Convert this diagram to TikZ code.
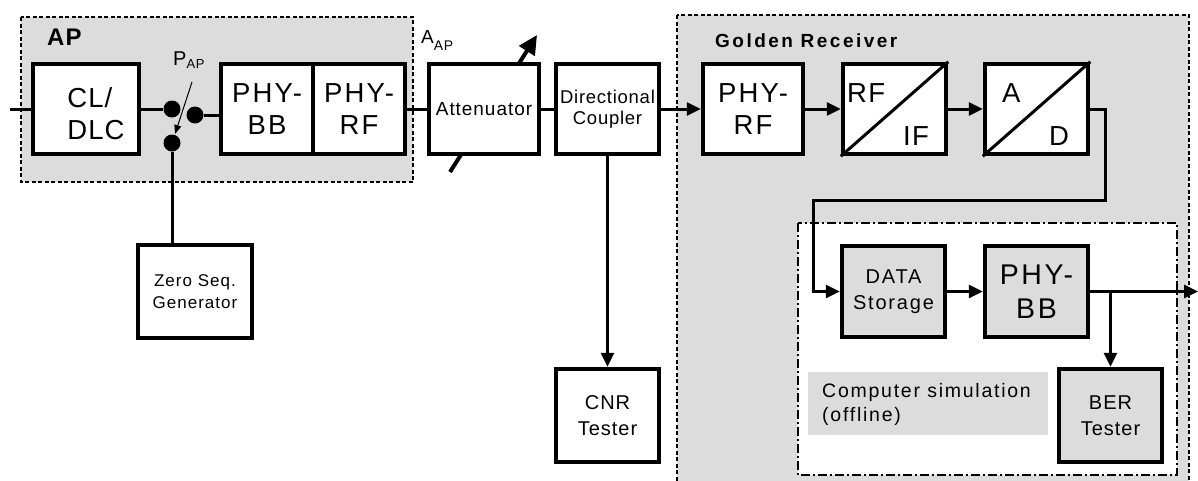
\documentclass[tikz,border=0pt]{standalone}
\usepackage{fontspec}
\setmainfont{Liberation Sans}
\usetikzlibrary{arrows.meta}
\definecolor{bg}{RGB}{220,220,220}
\newcommand{\fsz}[3]{\fontsize{#1}{#2}\selectfont\addfontfeatures{LetterSpace=#3}}
\begin{document}
\begin{tikzpicture}[x=1pt,y=-1pt,
  blk/.style={draw,line width=4.5pt,fill=white,inner sep=0pt,align=center},
  gblk/.style={blk,fill=bg},
  con/.style={line width=3pt},
  arr/.style={line width=3pt,-{Triangle[length=14pt,width=13pt]}},
  dot/.style={circle,fill,inner sep=0pt,minimum size=17pt},
  big/.style={font=\fsz{27.5}{32}{8}},
  mid/.style={font=\fsz{19}{22}{5}},
  lbl/.style={inner sep=0pt,anchor=base west},
  grp/.style={draw,fill=bg,line width=1.3pt,dash pattern=on 4pt off 2.5pt},
  sim/.style={draw,fill=white,line width=1.3pt,dash pattern=on 9pt off 3pt on 2pt off 3pt}]
\useasboundingbox (0,0) rectangle (1198,480);
% group boxes
\path[grp] (21,17) rectangle (413,182);
\path[grp] (677,15) rectangle (1189,495);
\path[sim] (798,223) rectangle (1177,475);
\node[fill=bg,inner sep=0pt,minimum width=240pt,minimum height=63pt] (cslbl) at (928,403.5) {};
\node[inner sep=0pt,anchor=west,align=left,font=\fsz{19.5}{24}{9}] (cstxt) at (822,404) {Computer simulation\\(offline)};
% labels
\node[lbl,font=\bfseries\fsz{24}{28}{5}] (aplbl) at (47,45) {AP};
\node[lbl,font=\bfseries\fsz{19}{22}{13}] (grlbl) at (715,47) {Golden Receiver};
\node[lbl,font=\fsz{20}{24}{0}] (paplbl) at (173,65) {P\raisebox{-3pt}{\fsz{13}{15}{5}AP}};
\node[lbl,font=\fsz{19}{24}{0}] (aaplbl) at (421,43) {A\raisebox{-7pt}{\fsz{14}{16}{5}AP}};
% attenuator arrow (under the box)
\coordinate (attlo) at (450,172);
\coordinate (atthi) at (537,35);
\draw[line width=4pt,-{Triangle[length=19pt,width=18pt]}] (attlo) -- (atthi);
% blocks
\node[blk,minimum width=106pt,minimum height=90pt] (cl) at (86,109) {};
\node[inner sep=0pt,align=left,font=\fsz{27.5}{32}{4}] (cltxt) at (96,114) {CL/\\DLC};
\node[blk,big,minimum width=92pt,minimum height=90pt] (phybb) at (267,109) {PHY-\\BB};
\node[blk,big,minimum width=92pt,minimum height=90pt] (phyrf) at (359,109) {PHY-\\RF};
\node[blk,mid,minimum width=110pt,minimum height=90pt] (att) at (484,109) {Attenuator};
\node[blk,font=\fsz{18.5}{21}{4},minimum width=103pt,minimum height=90pt] (dc) at (607.5,109) {Directional\\Coupler};
\node[blk,big,minimum width=100pt,minimum height=90pt] (grf) at (753,109) {PHY-\\RF};
\node[blk,minimum width=103pt,minimum height=90pt] (rfif) at (894.5,109) {};
\node[blk,minimum width=103pt,minimum height=90pt] (ad) at (1036.5,109) {};
\draw[con] (rfif.south west) -- (rfif.north east);
\draw[con] (ad.south west) -- (ad.north east);
\node[lbl,font=\fsz{27.5}{32}{5}] (rftxt) at (847,102) {RF};
\node[lbl,font=\fsz{27.5}{32}{5}] (iftxt) at (903,145) {IF};
\node[lbl,font=\fsz{27.5}{32}{5}] (atxt) at (1002,102) {A};
\node[lbl,font=\fsz{27.5}{32}{5}] (dtxt) at (1049,145) {D};
\node[blk,font=\fsz{17}{22}{6},minimum width=114pt,minimum height=93pt] (zsg) at (195,291.5) {Zero Seq.\\Generator};
\node[blk,font=\fsz{20}{26}{5},minimum width=103pt,minimum height=93pt] (cnr) at (607.5,415.5) {CNR\\Tester};
\node[gblk,font=\fsz{20}{26}{9},minimum width=103pt,minimum height=91pt] (ds) at (893.5,291.5) {DATA\\Storage};
\node[gblk,font=\fsz{28.5}{34}{9},minimum width=103pt,minimum height=91pt] (pbb) at (1036.5,291.5) {PHY-\\BB};
\node[gblk,font=\fsz{20}{26}{5},minimum width=103pt,minimum height=93pt] (ber) at (1110.5,415.5) {BER\\Tester};
% switch dots
\node[dot] (d1) at (172,109) {};
\node[dot] (d2) at (195,115) {};
\node[dot] (d3) at (172,143) {};
% connectors
\coordinate (in) at (10,109);
\draw[con] (in) -- (cl.west);
\draw[con] (cl.east) -- (d1);
\draw[con] (d2) -- (phybb.west |- d2);
\draw[con] (d3) -- (d3 |- zsg.north);
\coordinate (pap1) at (192,82);
\coordinate (pap2) at (175,134);
\draw[line width=1pt,-{Triangle[length=9pt,width=7pt]}] (pap1) -- (pap2);
\draw[con] (phyrf.east) -- (att.west);
\draw[con] (att.east) -- (dc.west);
\draw[arr] (dc.east) -- (grf.west);
\draw[arr] (grf.east) -- (rfif.west);
\draw[arr] (rfif.east) -- (ad.west);
\coordinate (t1) at (1105,200);
\coordinate (t2) at (813,200);
\draw[arr] (ad.east) -| (t1) -- (t2) |- (ds.west);
\draw[arr] (dc.south) -- (cnr.north);
\draw[arr] (ds.east) -- (pbb.west);
\coordinate (out) at (1198,291.5);
\draw[arr] (pbb.east) -- (out);
\draw[arr] (ber.north |- pbb.east) -- (ber.north);
\end{tikzpicture}
\end{document}
